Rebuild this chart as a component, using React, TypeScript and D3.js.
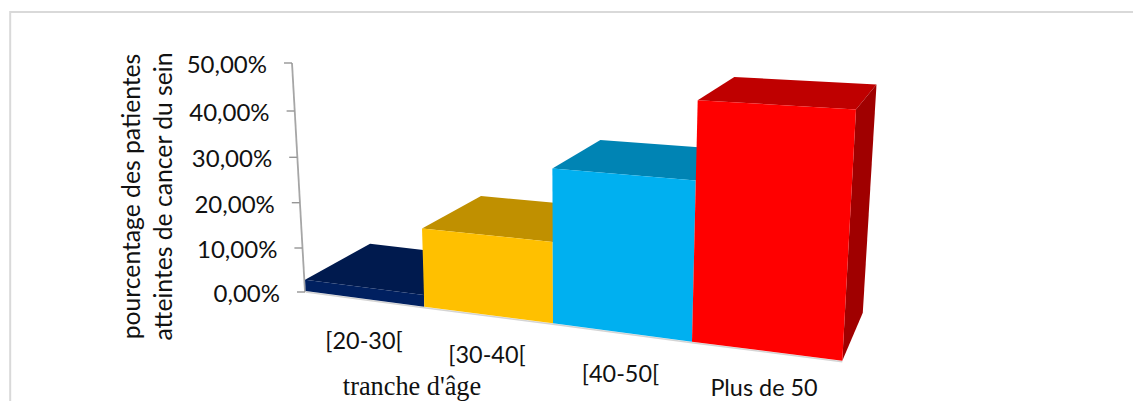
import React from "react";
import * as d3 from "d3";

const categories = ["[20-30[", "[30-40[", "[40-50[", "Plus de 50"];
const values = [2.45, 16.4, 31.2, 46.7];
const frontColors = ["#002060", "#FFC000", "#00B0F0", "#FF0000"];
const topColors = ["#001A4E", "#C09000", "#0084B4", "#BF0000"];
const sideColor = "#A00000";
const tickValues = [0, 10, 20, 30, 40, 50];
const axisTitleLines = ["pourcentage des patientes", "atteintes de cancer du sein"];
const xTitle = "tranche d'âge";

const edges = [0, 1, 2, 3, 4];
const slots = [0, 1, 2, 3];

// Perspective of the front floor edge, sampled at each bar boundary.
const floorX = d3.scaleLinear().domain(edges).range([305.7, 424.3, 553, 692, 842.3]);
const floorY = d3.scaleLinear().domain(edges).range([291, 306.7, 323.3, 341.7, 360.7]);
const pxPerUnit = d3.scaleLinear().domain(edges).range([4.58, 4.77, 4.96, 5.17, 5.38]);
const lean = d3.scaleLinear().domain(edges).range([-0.057, -0.029, -0.004, 0.0236, 0.0545]);
const depthX = d3.scaleLinear().domain(edges).range([65, 59, 48, 36.6, 20.5]);
const depthY = d3.scaleLinear().domain(edges).range([37, 39, 42, 45, 48]);
const depthShrink = 0.0103;

// Vertical wall axis, whose spacing tightens towards the viewer.
const axisY = d3.scaleLinear().domain(tickValues).range([292, 248, 202.7, 157.3, 111, 63]);
const axisX = d3.scaleLinear().domain([0, 50]).range([305, 292]);

// Category labels step down along the sloping floor.
const labelX = d3.scaleLinear().domain(slots).range([364, 487, 620.5, 764]);
const labelY = d3.scaleLinear().domain(slots).range([349.3, 363.3, 382.3, 396]);

type Pt = [number, number];

const project = (u: number, v: number, back: boolean): Pt => {
  const h = pxPerUnit(u) * v;
  const x = floorX(u) + lean(u) * h;
  const y = floorY(u) - h;
  if (!back) return [x, y];
  return [x + depthX(u), y - depthY(u) * (1 - depthShrink * v)];
};

const poly = d3.line<Pt>().curve(d3.curveLinearClosed);

export default function App() {
  return (
    <svg
      width={1133}
      height={401}
      style={{ position: "absolute", left: 0, top: 0, display: "block", background: "#fff" }}
    >
      <rect x={10.2} y={12} width={1140} height={420} fill="#fff" stroke="#D9D9D9" strokeWidth={2} />

      {/* Value axis */}
      <path
        d={`M${axisX(50)},${axisY(50)}L${axisX(0)},${axisY(0)}`}
        stroke="#A6A6A6"
        strokeWidth={1.8}
        fill="none"
      />
      {tickValues.map((t) => (
        <g key={t}>
          <line
            x1={axisX(t) - 8}
            x2={axisX(t)}
            y1={axisY(t)}
            y2={axisY(t)}
            stroke="#969696"
            strokeWidth={1.4}
          />
          <text
            x={axisX(t) - 25}
            y={axisY(t) + 10}
            textAnchor="end"
            fontFamily="Lato, sans-serif"
            fontSize={24}
            fill="#111"
          >
            {`${t},00%`}
          </text>
        </g>
      ))}

      {/* Floor edge beneath the bars */}
      <path
        d={d3.line<number>().x((u) => floorX(u)).y((u) => floorY(u) + 1)(edges) ?? ""}
        stroke="#D4D4D4"
        strokeWidth={1.5}
        fill="none"
      />

      {/* Bars, painted from left to right so nearer ones cover their neighbour's top */}
      {values.map((v, i) => {
        const a = i;
        const b = i + 1;
        return (
          <g key={categories[i]}>
            <path
              d={poly([project(a, v, false), project(a, v, true), project(b, v, true), project(b, v, false)]) ?? ""}
              fill={topColors[i]}
            />
            {i === values.length - 1 && (
              <path
                d={poly([project(b, 0, false), project(b, 0, true), project(b, v, true), project(b, v, false)]) ?? ""}
                fill={sideColor}
              />
            )}
            <path
              d={poly([project(a, 0, false), project(a, v, false), project(b, v, false), project(b, 0, false)]) ?? ""}
              fill={frontColors[i]}
            />
          </g>
        );
      })}

      {/* Category labels */}
      {categories.map((c, i) => (
        <text
          key={c}
          x={labelX(i)}
          y={labelY(i)}
          textAnchor="middle"
          fontFamily="Lato, sans-serif"
          fontSize={23.4}
          fill="#111"
        >
          {c}
        </text>
      ))}

      <text x={412} y={395} textAnchor="middle" fontFamily="Liberation Serif, serif" fontSize={26.3} fill="#111">
        {xTitle}
      </text>

      {axisTitleLines.map((line, i) => (
        <text
          key={line}
          transform={`translate(${140 + i * 32},196.5) rotate(-90)`}
          textAnchor="middle"
          fontFamily="Lato, sans-serif"
          fontSize={24.7}
          fill="#111"
        >
          {line}
        </text>
      ))}
    </svg>
  );
}
